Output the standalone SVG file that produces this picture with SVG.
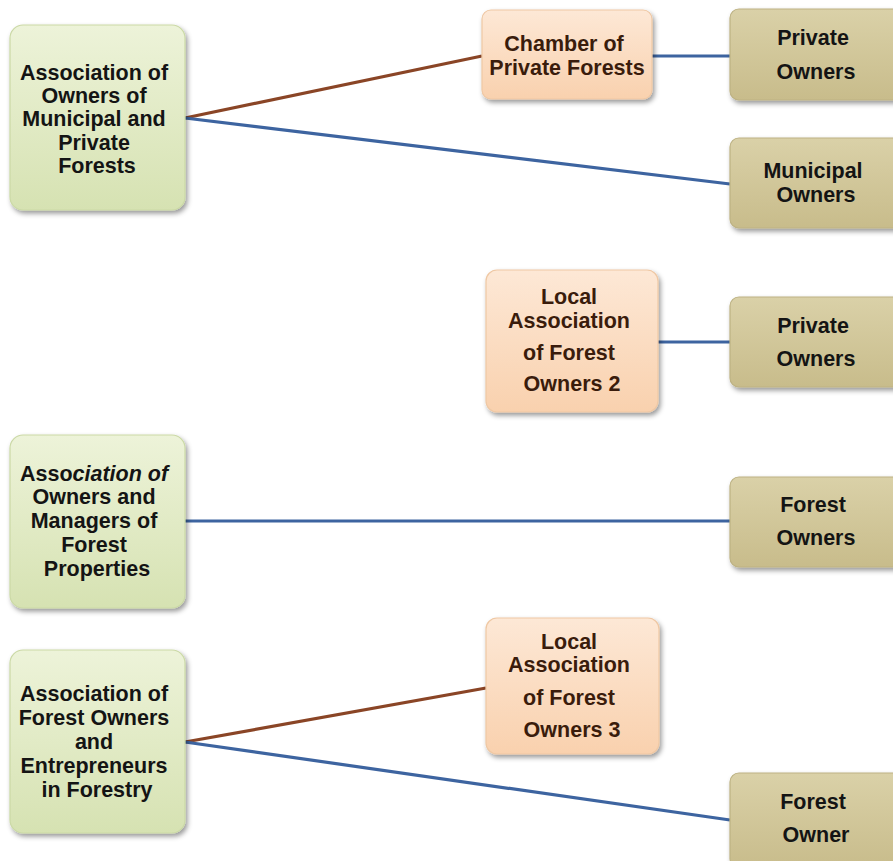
<svg xmlns="http://www.w3.org/2000/svg" width="893" height="861" viewBox="0 0 893 861">
  <defs>
    <linearGradient id="gGreen" x1="0" y1="0" x2="0" y2="1">
      <stop offset="0" stop-color="#edf3d9"/>
      <stop offset="1" stop-color="#d6e2b2"/>
    </linearGradient>
    <linearGradient id="gPeach" x1="0" y1="0" x2="0" y2="1">
      <stop offset="0" stop-color="#fde8d6"/>
      <stop offset="1" stop-color="#f9d1ae"/>
    </linearGradient>
    <linearGradient id="gTan" x1="0" y1="0" x2="0" y2="1">
      <stop offset="0" stop-color="#dad1a8"/>
      <stop offset="1" stop-color="#c8bc8b"/>
    </linearGradient>
    <filter id="shadow" x="-10%" y="-10%" width="125%" height="125%">
      <feDropShadow dx="2" dy="3" stdDeviation="2.5" flood-color="#000" flood-opacity="0.4"/>
    </filter>
  </defs>
  <style>
    .box { filter: url(#shadow); stroke-width: 1.2; }
    .green { fill: url(#gGreen); stroke: #cbd9a6; }
    .peach { fill: url(#gPeach); stroke: #efc8a4; }
    .tan { fill: url(#gTan); stroke: #bdb283; }
    .label { font-family: "Liberation Sans", Arial, sans-serif; font-weight: bold; font-size: 21.5px; text-anchor: middle; fill: #141414; }
    .brownText { fill: #3a1c0c; }
    .blue { stroke: #3d64a0; stroke-width: 3.2; fill: none; }
    .brown { stroke: #8a4526; stroke-width: 3.2; fill: none; }
  </style>

  <rect width="893" height="861" fill="#ffffff"/>

  <!-- connectors -->
  <g id="connectors">
    <line class="brown" x1="185" y1="118" x2="482" y2="56"/>
    <line class="blue" x1="185" y1="118" x2="730" y2="184"/>
    <line class="blue" x1="652" y1="56" x2="730" y2="56"/>
    <line class="blue" x1="658" y1="342" x2="730" y2="342"/>
    <line class="blue" x1="185" y1="521" x2="730" y2="521"/>
    <line class="brown" x1="185" y1="742" x2="486" y2="688"/>
    <line class="blue" x1="185" y1="742" x2="730" y2="820"/>
  </g>

  <!-- association of owners of municipal and private forests -->
  <g id="assocMunicipalPrivate">
    <rect class="box green" x="10" y="25" width="175" height="185" rx="13"/>
    <text class="label">
      <tspan x="97" y="80">Association of</tspan>
      <tspan x="97" y="103">Owners of</tspan>
      <tspan x="97" y="126">Municipal and</tspan>
      <tspan x="97" y="150">Private</tspan>
      <tspan x="97" y="173">Forests</tspan>
    </text>
  </g>

  <g id="chamberPrivateForests">
    <rect class="box peach" x="482" y="10" width="170" height="89" rx="9"/>
    <text class="label brownText">
      <tspan x="567" y="51">Chamber of</tspan>
      <tspan x="567" y="75">Private Forests</tspan>
    </text>
  </g>

  <g id="privateOwners1">
    <rect class="box tan" x="730" y="9" width="174" height="91" rx="9"/>
    <text class="label">
      <tspan x="816" y="45">Private</tspan>
      <tspan x="816" y="79">Owners</tspan>
    </text>
  </g>

  <g id="municipalOwners">
    <rect class="box tan" x="730" y="138" width="174" height="90" rx="9"/>
    <text class="label">
      <tspan x="816" y="178">Municipal</tspan>
      <tspan x="816" y="202">Owners</tspan>
    </text>
  </g>

  <!-- local association 2 -->
  <g id="localAssoc2">
    <rect class="box peach" x="486" y="270" width="172" height="142" rx="11"/>
    <text class="label brownText">
      <tspan x="572" y="304">Local</tspan>
      <tspan x="572" y="328">Association</tspan>
      <tspan x="572" y="360">of Forest</tspan>
      <tspan x="572" y="391">Owners 2</tspan>
    </text>
  </g>

  <g id="privateOwners2">
    <rect class="box tan" x="730" y="297" width="174" height="90" rx="9"/>
    <text class="label">
      <tspan x="816" y="333">Private</tspan>
      <tspan x="816" y="366">Owners</tspan>
    </text>
  </g>

  <!-- association of owners and managers -->
  <g id="assocOwnersManagers">
    <rect class="box green" x="10" y="435" width="175" height="173" rx="13"/>
    <text class="label">
      <tspan x="97" y="481">Asso<tspan font-style="italic">ciation of</tspan></tspan>
      <tspan x="97" y="504">Owners and</tspan>
      <tspan x="97" y="528">Managers of</tspan>
      <tspan x="97" y="552">Forest</tspan>
      <tspan x="97" y="576">Properties</tspan>
    </text>
  </g>

  <g id="forestOwners">
    <rect class="box tan" x="730" y="477" width="174" height="90" rx="9"/>
    <text class="label">
      <tspan x="816" y="512">Forest</tspan>
      <tspan x="816" y="545">Owners</tspan>
    </text>
  </g>

  <!-- association of forest owners and entrepreneurs -->
  <g id="assocEntrepreneurs">
    <rect class="box green" x="10" y="650" width="175" height="183" rx="13"/>
    <text class="label">
      <tspan x="97" y="701">Association of</tspan>
      <tspan x="97" y="725">Forest Owners</tspan>
      <tspan x="97" y="749">and</tspan>
      <tspan x="97" y="773">Entrepreneurs</tspan>
      <tspan x="97" y="797">in Forestry</tspan>
    </text>
  </g>

  <g id="localAssoc3">
    <rect class="box peach" x="486" y="618" width="173" height="136" rx="11"/>
    <text class="label brownText">
      <tspan x="572" y="649">Local</tspan>
      <tspan x="572" y="672">Association</tspan>
      <tspan x="572" y="705">of Forest</tspan>
      <tspan x="572" y="737">Owners 3</tspan>
    </text>
  </g>

  <g id="forestOwner">
    <rect class="box tan" x="730" y="773" width="174" height="95" rx="9"/>
    <text class="label">
      <tspan x="816" y="809">Forest</tspan>
      <tspan x="816" y="842">Owner</tspan>
    </text>
  </g>
</svg>
